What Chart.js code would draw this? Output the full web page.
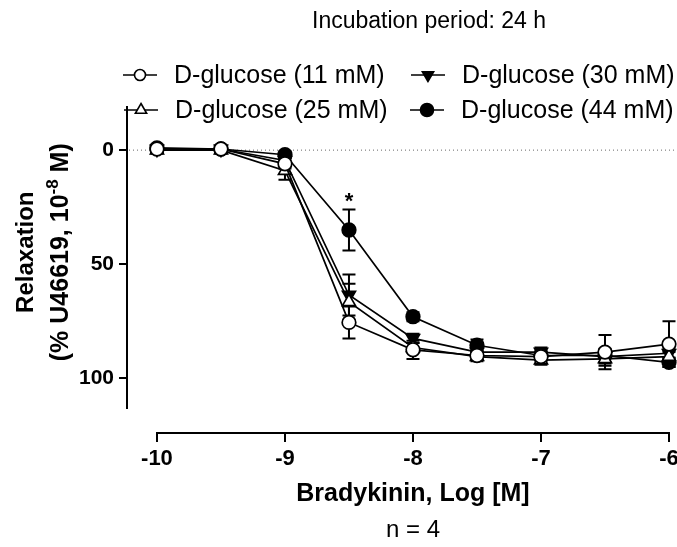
<!DOCTYPE html>
<html>
<head>
<meta charset="utf-8">
<script src="https://cdn.jsdelivr.net/npm/chart.js@4/dist/chart.umd.min.js"></script>
<style>
  html, body { margin: 0; padding: 0; background: #fff; overflow: hidden; }
  #wrap { width: 677px; height: 547px; position: relative; }
</style>
</head>
<body>
<div id="wrap"><canvas id="curve"></canvas></div>
<script>
const FONT = "'Liberation Sans', Arial, Helvetica, sans-serif";

// log[bradykinin] doses
const doses = [-10, -9.5, -9, -8.5, -8, -7.5, -7, -6.5, -6];
const xTicks = [-10, -9, -8, -7, -6];
const yTicks = [0, 50, 100];

// % relaxation, mean and SEM for each glucose level
const glc11 = [-0.5, -0.5, 6, 75.5, 87.5, 90, 90.5, 88.5, 85];
const glc11Err = [1.5, 1.5, 2, 7, 4, 2, 2, 7.5, 10];
const glc25 = [0, 0, 9, 66.5, 86.5, 90.5, 92, 91.5, 90.5];
const glc25Err = [1.5, 1.5, 4, 8, 2, 2, 2, 3, 2];
const glc30 = [-0.5, -0.5, 4.5, 63.5, 82.5, 88.5, 88.5, 90.5, 89];
const glc30Err = [1.5, 1.5, 2, 9, 2, 2, 2, 3, 2];
const glc44 = [-1, -0.5, 2, 35, 73, 85.5, 90, 90, 93];
const glc44Err = [1.5, 1.5, 1.5, 9, 2, 2.5, 2, 3, 2];

const seriesNames = ["D-glucose (11 mM)", "D-glucose (25 mM)", "D-glucose (30 mM)", "D-glucose (44 mM)"];
const starDose = -8.5;

function toPoints(values) {
    return doses.map((d, i) => ({ x: d, y: values[i] }));
}

function makeSet(label, values, errs, style, filled, rotation) {
    return {
        label: label,
        data: toPoints(values),
        errors: errs,
        borderColor: "#000",
        borderWidth: 1.7,
        tension: 0,
        fill: false,
        pointStyle: style,
        pointRotation: rotation || 0,
        pointRadius: style === "circle" ? 6.8 : 7.5,
        legendRadius: style === "circle" ? (filled ? 6.5 : 5.5) : 6.5,
        pointBorderWidth: 1.7,
        pointBorderColor: "#000",
        pointBackgroundColor: filled ? "#000" : "#fff",
        clip: false
    };
}

// zero line, error bars, hand-placed axis/labels
const extras = {
    id: "extras",
    beforeDatasetsDraw(chart) {
        const ctx = chart.ctx;
        const xs = chart.scales.x, ys = chart.scales.y;
        const area = chart.chartArea;

        ctx.save();
        ctx.strokeStyle = "#666";
        ctx.lineWidth = 1;
        ctx.setLineDash([1, 3]);
        const y0 = ys.getPixelForValue(0);
        ctx.beginPath();
        ctx.moveTo(area.left + 2, y0);
        ctx.lineTo(chart.width, y0);
        ctx.stroke();
        ctx.restore();

        ctx.save();
        ctx.strokeStyle = "#000";
        ctx.lineWidth = 2;
        chart.data.datasets.forEach(ds => {
            ds.data.forEach((p, i) => {
                const e = ds.errors[i];
                const px = xs.getPixelForValue(p.x);
                const top = ys.getPixelForValue(p.y - e);
                const bot = ys.getPixelForValue(p.y + e);
                ctx.beginPath();
                ctx.moveTo(px, top);
                ctx.lineTo(px, bot);
                ctx.moveTo(px - 6.5, top);
                ctx.lineTo(px + 6.5, top);
                ctx.moveTo(px - 6.5, bot);
                ctx.lineTo(px + 6.5, bot);
                ctx.stroke();
            });
        });
        ctx.restore();
    },
    afterDraw(chart) {
        const ctx = chart.ctx;
        const xs = chart.scales.x, ys = chart.scales.y;
        const axisY = 433;
        const x0 = xs.getPixelForValue(xTicks[0]);
        const x1 = xs.getPixelForValue(xTicks[xTicks.length - 1]);
        const mid = (x0 + x1) / 2;

        ctx.save();
        ctx.fillStyle = "#000";
        ctx.strokeStyle = "#000";

        // detached x axis
        ctx.lineWidth = 2;
        ctx.beginPath();
        ctx.moveTo(x0, axisY);
        ctx.lineTo(x1, axisY);
        xTicks.forEach(t => {
            const px = Math.round(xs.getPixelForValue(t));
            ctx.moveTo(px, axisY - 1);
            ctx.lineTo(px, axisY + 9);
        });
        ctx.stroke();

        ctx.textAlign = "center";
        ctx.textBaseline = "middle";
        ctx.font = "bold 22px " + FONT;
        xTicks.forEach(t => ctx.fillText(String(t), xs.getPixelForValue(t), 459));
        ctx.font = "bold 25px " + FONT;
        ctx.fillText("Bradykinin, Log [M]", mid, 494);
        ctx.font = "24px " + FONT;
        ctx.fillText("n = 4", mid, 530);

        // title
        ctx.font = "23px " + FONT;
        ctx.fillText("Incubation period: 24 h", 429, 22);

        // significance mark
        ctx.font = "bold 22px " + FONT;
        const i = doses.indexOf(starDose);
        const ds44 = chart.data.datasets[3];
        ctx.fillText("*", xs.getPixelForValue(starDose), ys.getPixelForValue(ds44.data[i].y - ds44.errors[i]) - 8);

        // y title, two lines with superscript
        ctx.font = "bold 24px " + FONT;
        const cy = ys.getPixelForValue(50) - 12;
        ctx.save();
        ctx.translate(26, cy);
        ctx.rotate(-Math.PI / 2);
        ctx.textAlign = "center";
        ctx.fillText("Relaxation", 0, 0);
        ctx.restore();

        ctx.save();
        ctx.translate(61, cy);
        ctx.rotate(-Math.PI / 2);
        ctx.textAlign = "left";
        const mainFont = "bold 25px " + FONT, supFont = "bold 17px " + FONT;
        const partA = "(% U46619, 10", sup = "-8", partB = " M)";
        ctx.font = mainFont;
        const wA = ctx.measureText(partA).width;
        const wB = ctx.measureText(partB).width;
        ctx.font = supFont;
        const wS = ctx.measureText(sup).width;
        let sx = -(wA + wS + wB) / 2;
        ctx.font = mainFont;
        ctx.fillText(partA, sx, 0);
        sx += wA;
        ctx.font = supFont;
        ctx.fillText(sup, sx, -8);
        sx += wS;
        ctx.font = mainFont;
        ctx.fillText(partB, sx, 0);
        ctx.restore();

        // legend
        const slots = [
            { x: 140, y: 75 }, { x: 141, y: 110 },
            { x: 428, y: 75 }, { x: 427, y: 110 }
        ];
        ctx.font = "25px " + FONT;
        ctx.textAlign = "left";
        chart.data.datasets.forEach((ds, k) => {
            const s = slots[k];
            ctx.lineWidth = 1.6;
            ctx.strokeStyle = "#000";
            ctx.beginPath();
            ctx.moveTo(s.x - 17, s.y);
            ctx.lineTo(s.x + 17, s.y);
            ctx.stroke();
            ctx.fillStyle = ds.pointBackgroundColor;
            Chart.helpers.drawPoint(ctx, {
                pointStyle: ds.pointStyle,
                rotation: ds.pointRotation,
                radius: ds.legendRadius,
                borderWidth: ds.pointBorderWidth
            }, s.x, s.y);
            ctx.fillStyle = "#000";
            ctx.fillText(seriesNames[k], s.x + 34, s.y + 1);
        });
        ctx.restore();
    }
};

new Chart(document.getElementById("curve"), {
    type: "line",
    data: {
        datasets: [
            makeSet(seriesNames[0], glc11, glc11Err, "circle", false),
            makeSet(seriesNames[1], glc25, glc25Err, "triangle", false),
            makeSet(seriesNames[2], glc30, glc30Err, "triangle", true, 180),
            makeSet(seriesNames[3], glc44, glc44Err, "circle", true)
        ]
    },
    options: {
        responsive: true,
        maintainAspectRatio: false,
        animation: false,
        layout: { autoPadding: false, padding: { top: 107, bottom: 139, left: 0, right: 0 } },
        plugins: { legend: { display: false }, tooltip: { enabled: false } },
        scales: {
            x: {
                type: "linear",
                min: -10.234,
                max: -5.9375,
                display: false
            },
            y: {
                min: -18.9,
                max: 113,
                reverse: true,
                afterFit: (scale) => { scale.width = 127; },
                afterBuildTicks: (scale) => { scale.ticks = yTicks.map(v => ({ value: v })); },
                border: { display: true, color: "#000", width: 2 },
                grid: { drawOnChartArea: false, drawTicks: true, tickLength: 8, color: "#000", lineWidth: 2 },
                ticks: { color: "#000", padding: 5, font: { family: FONT, size: 21, weight: "bold" } }
            }
        }
    },
    plugins: [extras]
});
</script>
</body>
</html>
